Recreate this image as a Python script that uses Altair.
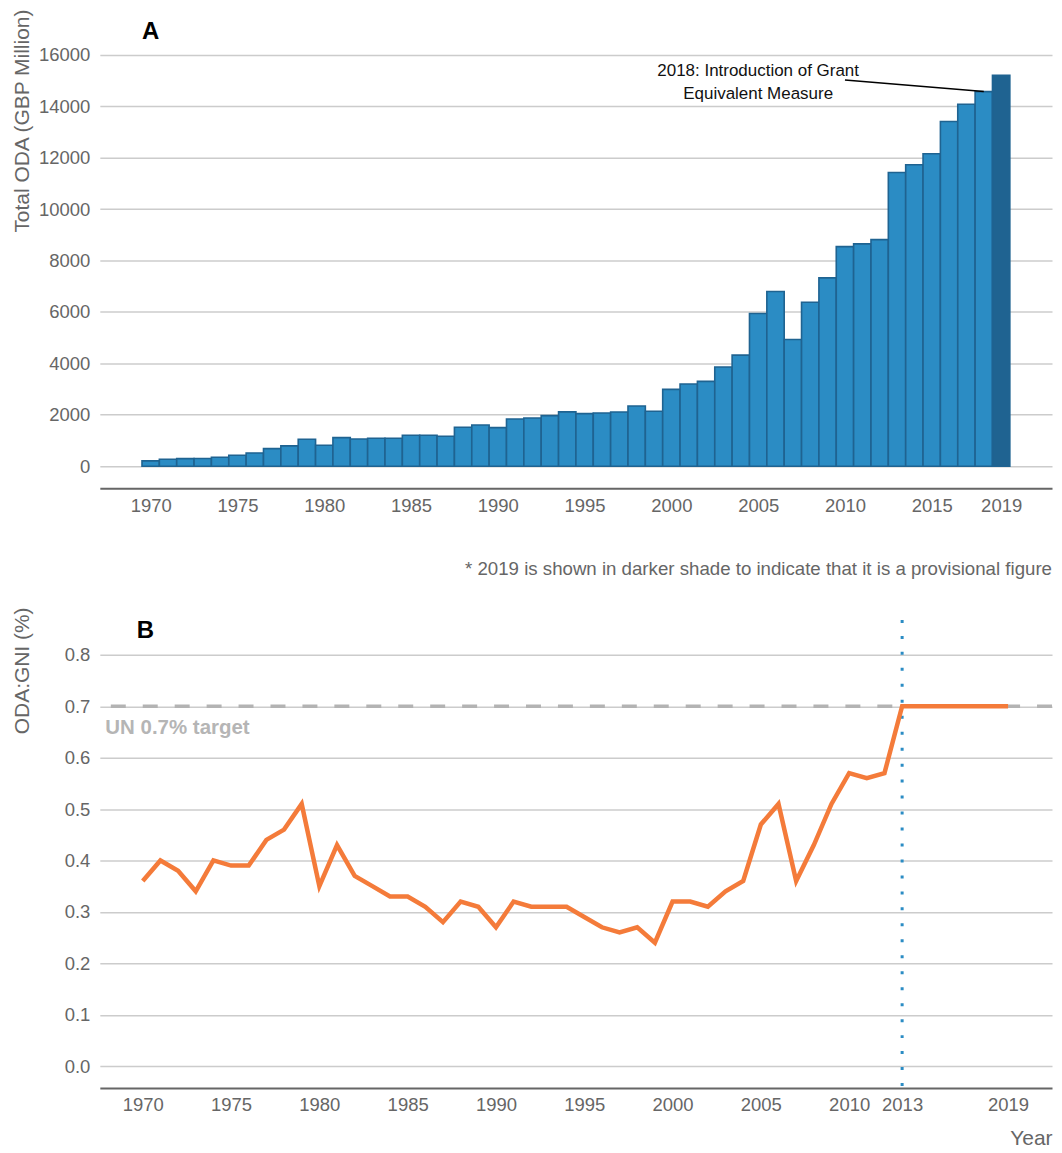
import altair as alt
import pandas as pd

# ---------------- data ----------------
years = list(range(1970, 2020))

oda_total = [206, 272, 295, 300, 350, 427, 517, 686, 790, 1048,
             815, 1113, 1061, 1087, 1087, 1204, 1204, 1165, 1515, 1604,
             1502, 1837, 1876, 1968, 2115, 2045, 2071, 2110, 2343, 2136,
             2990, 3197, 3301, 3858, 4324, 5942, 6796, 4932, 6382, 7328,
             8544, 8650, 8816, 11430, 11728, 12155, 13410, 14085, 14575, 15212]

oda_gni = [0.36, 0.40, 0.38, 0.34, 0.40, 0.39, 0.39, 0.44, 0.46, 0.51,
           0.35, 0.43, 0.37, 0.35, 0.33, 0.33, 0.31, 0.28, 0.32, 0.31,
           0.27, 0.32, 0.31, 0.31, 0.31, 0.29, 0.27, 0.26, 0.27, 0.24,
           0.32, 0.32, 0.31, 0.34, 0.36, 0.47, 0.51, 0.36, 0.43, 0.51,
           0.57, 0.56, 0.57, 0.70, 0.70, 0.70, 0.70, 0.70, 0.70, 0.70]

status = ["Final"] * 49 + ["Provisional"]

top_x_ticks = [1970, 1975, 1980, 1985, 1990, 1995, 2000, 2005, 2010, 2015, 2019]
bottom_x_ticks = [1970, 1975, 1980, 1985, 1990, 1995, 2000, 2005, 2010, 2013, 2019]
top_y_ticks = [0, 2000, 4000, 6000, 8000, 10000, 12000, 14000, 16000]
bottom_y_ticks = [0.0, 0.1, 0.2, 0.3, 0.4, 0.5, 0.6, 0.7, 0.8]

annot_text = ["2018: Introduction of Grant", "Equivalent Measure"]
annot_text_x = [2005]
annot_text_y = [15184]
annot_line_x = [2010, 2018]
annot_line_y = [15030, 14575]

panel_a = ["A"]
panel_a_x = [1970]
panel_a_y = [16621]
panel_b = ["B"]
panel_b_x = [1970.15]
panel_b_y = [0.833]

target_value = [0.7]
target_label = ["UN 0.7% target"]
target_label_x = [1967.88]
target_label_y = [0.6466]
commitment_year = [2013]

note_text = ["* 2019 is shown in darker shade to indicate that it is a provisional figure"]

# ---------------- style ----------------
FONT = "Liberation Sans"
GREY_TXT = "#666666"
GRID = "#cccccc"
BAR_FILL = "#2b8cc4"
BAR_DARK = "#1f6391"
ORANGE = "#f47b3a"
W = 954
H_TOP = 480
H_BOT = 482

df = pd.DataFrame({"year": years, "oda": oda_total, "gni": oda_gni, "status": status})

# ---------------- top panel ----------------
top_xscale = alt.Scale(domain=[1967.07, 2021.93], nice=False, zero=False)
top_yscale = alt.Scale(domain=[-854.4, 17786], nice=False, zero=False)

top_xaxis = alt.Axis(values=top_x_ticks, format="d", grid=False, ticks=False, tickSize=0,
                     labelPadding=8, labelFontSize=18.5, labelColor=GREY_TXT, labelFont=FONT,
                     labelFlush=False, labelOverlap=False, domainColor=GREY_TXT, domainWidth=2)
top_yaxis = alt.Axis(values=top_y_ticks, format="d", grid=True, gridColor=GRID, gridWidth=1.5,
                     ticks=False, tickSize=0, domain=False, labelPadding=10, labelFontSize=18.5,
                     labelColor=GREY_TXT, labelFont=FONT, titleFont=FONT, titleFontSize=21,
                     titleFontWeight="normal", titleColor=GREY_TXT, titleAngle=270,
                     titleAlign="right", titleBaseline="top", titleX=-88, titleY=0)


def tx(field):
    return alt.X(field, type="quantitative", scale=top_xscale, axis=top_xaxis, title=None)


def ty(field):
    return alt.Y(field, type="quantitative", scale=top_yscale, axis=top_yaxis,
                 title="Total ODA (GBP Million)")


bars = alt.Chart(df).transform_calculate(
    x0="datum.year - 0.5", x1="datum.year + 0.5", base="0"
).mark_bar(stroke=BAR_DARK, strokeWidth=1.6).encode(
    x=tx("x0"),
    x2=alt.X2("x1"),
    y=ty("oda"),
    y2=alt.Y2("base"),
    color=alt.Color("status:N", scale=alt.Scale(domain=["Final", "Provisional"],
                                                range=[BAR_FILL, BAR_DARK]), legend=None),
)

annot_line = alt.Chart(pd.DataFrame({"ax": annot_line_x, "ay": annot_line_y})).mark_line(
    color="black", strokeWidth=1.5
).encode(x=tx("ax"), y=ty("ay"))

annot_lbl = alt.Chart(pd.DataFrame({"ax": annot_text_x, "ay": annot_text_y,
                                    "t": ["\n".join(annot_text)]})).mark_text(
    font=FONT, fontSize=17, color="#111111", align="center", baseline="alphabetic",
    lineBreak="\n", lineHeight=23
).encode(x=tx("ax"), y=ty("ay"), text="t:N")

a_lbl = alt.Chart(pd.DataFrame({"ax": panel_a_x, "ay": panel_a_y, "t": panel_a})).mark_text(
    font=FONT, fontSize=24, fontWeight="bold", color="black", align="center", baseline="alphabetic"
).encode(x=tx("ax"), y=ty("ay"), text="t:N")

note = alt.Chart(pd.DataFrame({"t": note_text})).mark_text(
    font=FONT, fontSize=18.7, color=GREY_TXT, align="right", baseline="alphabetic"
).encode(x=alt.value(W), y=alt.value(567), text="t:N")

top = alt.layer(bars, annot_line, annot_lbl, a_lbl, note).properties(width=W, height=H_TOP)

# ---------------- bottom panel ----------------
bot_xscale = alt.Scale(domain=[1967.569, 2021.487], nice=False, zero=False)
bot_yscale = alt.Scale(domain=[-0.0427, 0.8932], nice=False, zero=False)

bot_xaxis = alt.Axis(values=bottom_x_ticks, format="d", grid=False, ticks=False, tickSize=0,
                     labelPadding=8, labelFontSize=18.5, labelColor=GREY_TXT, labelFont=FONT,
                     labelFlush=False, labelOverlap=False, domainColor=GREY_TXT, domainWidth=2,
                     titleFont=FONT, titleFontSize=21, titleFontWeight="normal",
                     titleColor=GREY_TXT, titleAlign="right", titleBaseline="alphabetic",
                     titleX=W, titleY=57)
bot_yaxis = alt.Axis(values=bottom_y_ticks, format=".1f", grid=True, gridColor=GRID, gridWidth=1.5,
                     ticks=False, tickSize=0, domain=False, labelPadding=10, labelFontSize=18.5,
                     labelColor=GREY_TXT, labelFont=FONT, titleFont=FONT, titleFontSize=21,
                     titleFontWeight="normal", titleColor=GREY_TXT, titleAngle=270,
                     titleAlign="right", titleBaseline="top", titleX=-88, titleY=0)


def bx(field):
    return alt.X(field, type="quantitative", scale=bot_xscale, axis=bot_xaxis, title="Year")


def by(field):
    return alt.Y(field, type="quantitative", scale=bot_yscale, axis=bot_yaxis, title="ODA:GNI (%)")


target_rule = alt.Chart(pd.DataFrame({"v": target_value})).mark_rule(
    color="#b3b3b3", strokeWidth=3.5, strokeDash=[15, 17]
).encode(y=by("v"))

commit_rule = alt.Chart(pd.DataFrame({"c": commitment_year})).mark_rule(
    color=BAR_FILL, strokeWidth=3, strokeDash=[3, 13], strokeDashOffset=3
).encode(x=bx("c"))

gni_line = alt.Chart(df).mark_line(color=ORANGE, strokeWidth=4.5).encode(
    x=bx("year"), y=by("gni")
)

target_lbl = alt.Chart(pd.DataFrame({"lx": target_label_x, "ly": target_label_y,
                                     "t": target_label})).mark_text(
    font=FONT, fontSize=20.5, fontWeight="bold", color="#b5b5b5", align="left", baseline="alphabetic"
).encode(x=bx("lx"), y=by("ly"), text="t:N")

b_lbl = alt.Chart(pd.DataFrame({"lx": panel_b_x, "ly": panel_b_y, "t": panel_b})).mark_text(
    font=FONT, fontSize=24, fontWeight="bold", color="black", align="center", baseline="alphabetic"
).encode(x=bx("lx"), y=by("ly"), text="t:N")

bottom = alt.layer(target_rule, commit_rule, gni_line, target_lbl, b_lbl).properties(
    width=W, height=H_BOT)

chart = alt.vconcat(top, bottom, spacing=26).properties(
    padding={"left": 4, "top": 0, "right": 0, "bottom": 0},
    background="white",
).configure(
    font=FONT,
    padding={"left": 4, "top": 0, "right": 0, "bottom": 0},
    view=alt.ViewConfig(stroke="transparent", strokeWidth=0),
)

chart.save("out.html", embed_options={"renderer": "svg", "actions": False})
